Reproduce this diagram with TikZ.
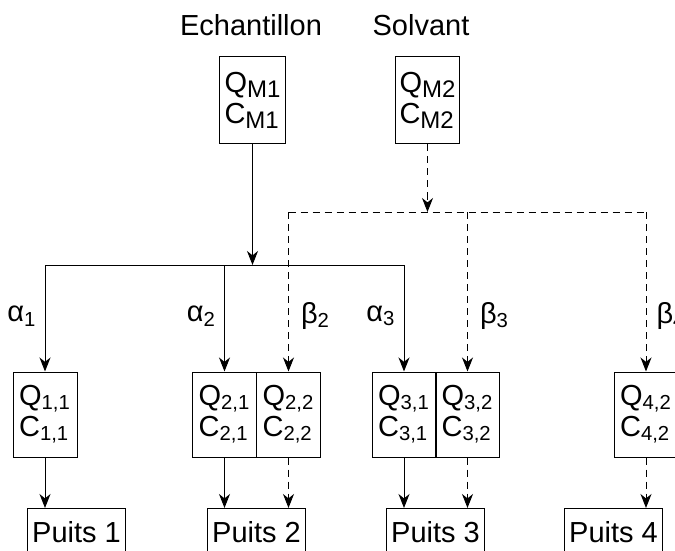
\documentclass[tikz,border=0pt]{standalone}
\usepackage{fontspec}
\setmainfont{Liberation Sans}
\usetikzlibrary{arrows.meta}

\newcommand{\lowsub}[1]{\raisebox{-0.35ex}{\fontsize{12}{12}\selectfont #1}}

\tikzset{
	cell/.style={draw, line width=0.5pt, minimum width=32pt, minimum height=42.5pt, align=left, inner sep=2pt},
	well/.style={draw, line width=0.5pt, minimum width=49pt, minimum height=24pt, anchor=north west, inner sep=0pt},
	flow/.style={-{Stealth[length=7pt,width=5.5pt,inset=2.2pt]}, line width=0.5pt},
	solvdash/.style={line width=0.5pt, dash pattern=on 3.5pt off 2.5pt},
	solvflow/.style={flow, dash pattern=on 3.5pt off 2.5pt},
	coef/.style={inner sep=0pt}
}

\begin{document}
\begin{tikzpicture}[x=0.5pt, y=-0.5pt, font=\fontsize{14.5}{15.5}\selectfont]
	\useasboundingbox (0,0) rectangle (675,551);

	% sources
	\node[anchor=base] (echlab) at (251,36) {Echantillon};
	\node[anchor=base] (solvlab) at (421,36) {Solvant};
	\node[cell, minimum width=33pt, minimum height=43.5pt] (M1) at (252.5,100.5) {Q\lowsub{M1}\\C\lowsub{M1}};
	\node[cell, minimum width=29.5pt, minimum height=43.5pt] (M2) at (427.5,100.5) {Q\lowsub{M2}\\C\lowsub{M2}};

	\coordinate (mjoin) at (252.5,265);
	\coordinate (sjoin) at (427.5,212);

	% mixing cells
	\node[cell] (Q11) at (45,414.5) {Q\textsubscript{1,1}\\C\textsubscript{1,1}};
	\node[cell] (Q21) at (224.5,414.5) {Q\textsubscript{2,1}\\C\textsubscript{2,1}};
	\node[cell] (Q22) at (288.5,414.5) {Q\textsubscript{2,2}\\C\textsubscript{2,2}};
	\node[cell] (Q31) at (404,414.5) {Q\textsubscript{3,1}\\C\textsubscript{3,1}};
	\node[cell] (Q32) at (467.5,414.5) {Q\textsubscript{3,2}\\C\textsubscript{3,2}};
	\node[cell] (Q42) at (646,414.5) {Q\textsubscript{4,2}\\C\textsubscript{4,2}};

	% wells
	\node[well] (P1) at (27,508) {Puits 1};
	\node[well] (P2) at (207,508) {Puits 2};
	\node[well] (P3) at (386,508) {Puits 3};
	\node[well] (P4) at (564,508) {Puits 4};

	% sample lines
	\draw[flow] (M1) -- (mjoin);
	\draw[line width=0.5pt] (Q11.north |- mjoin) -- (Q31.north |- mjoin);
	\draw[flow] (Q11.north |- mjoin) -- node[coef, left=4pt, pos=.48] {α\textsubscript{1}} (Q11);
	\draw[flow] (Q21.north |- mjoin) -- node[coef, left=4pt, pos=.48] {α\textsubscript{2}} (Q21);
	\draw[flow] (Q31.north |- mjoin) -- node[coef, left=4pt, pos=.48] {α\textsubscript{3}} (Q31);

	% solvent lines
	\draw[solvflow] (M2) -- (sjoin);
	\draw[solvdash] (Q22.north |- sjoin) -- (Q42.north |- sjoin);
	\draw[solvflow] (Q22.north |- sjoin) -- node[coef, right=6pt, pos=.65] {β\textsubscript{2}} (Q22);
	\draw[solvflow] (Q32.north |- sjoin) -- node[coef, right=6pt, pos=.65] {β\textsubscript{3}} (Q32);
	\draw[solvflow] (Q42.north |- sjoin) -- node[coef, right=5pt, pos=.65] {β\textsubscript{4}} (Q42);

	% to the wells
	\draw[flow] (Q11) -- (Q11.south |- P1.north);
	\draw[flow] (Q21) -- (Q21.south |- P2.north);
	\draw[solvflow] (Q22) -- (Q22.south |- P2.north);
	\draw[flow] (Q31) -- (Q31.south |- P3.north);
	\draw[solvflow] (Q32) -- (Q32.south |- P3.north);
	\draw[solvflow] (Q42) -- (Q42.south |- P4.north);
\end{tikzpicture}
\end{document}
